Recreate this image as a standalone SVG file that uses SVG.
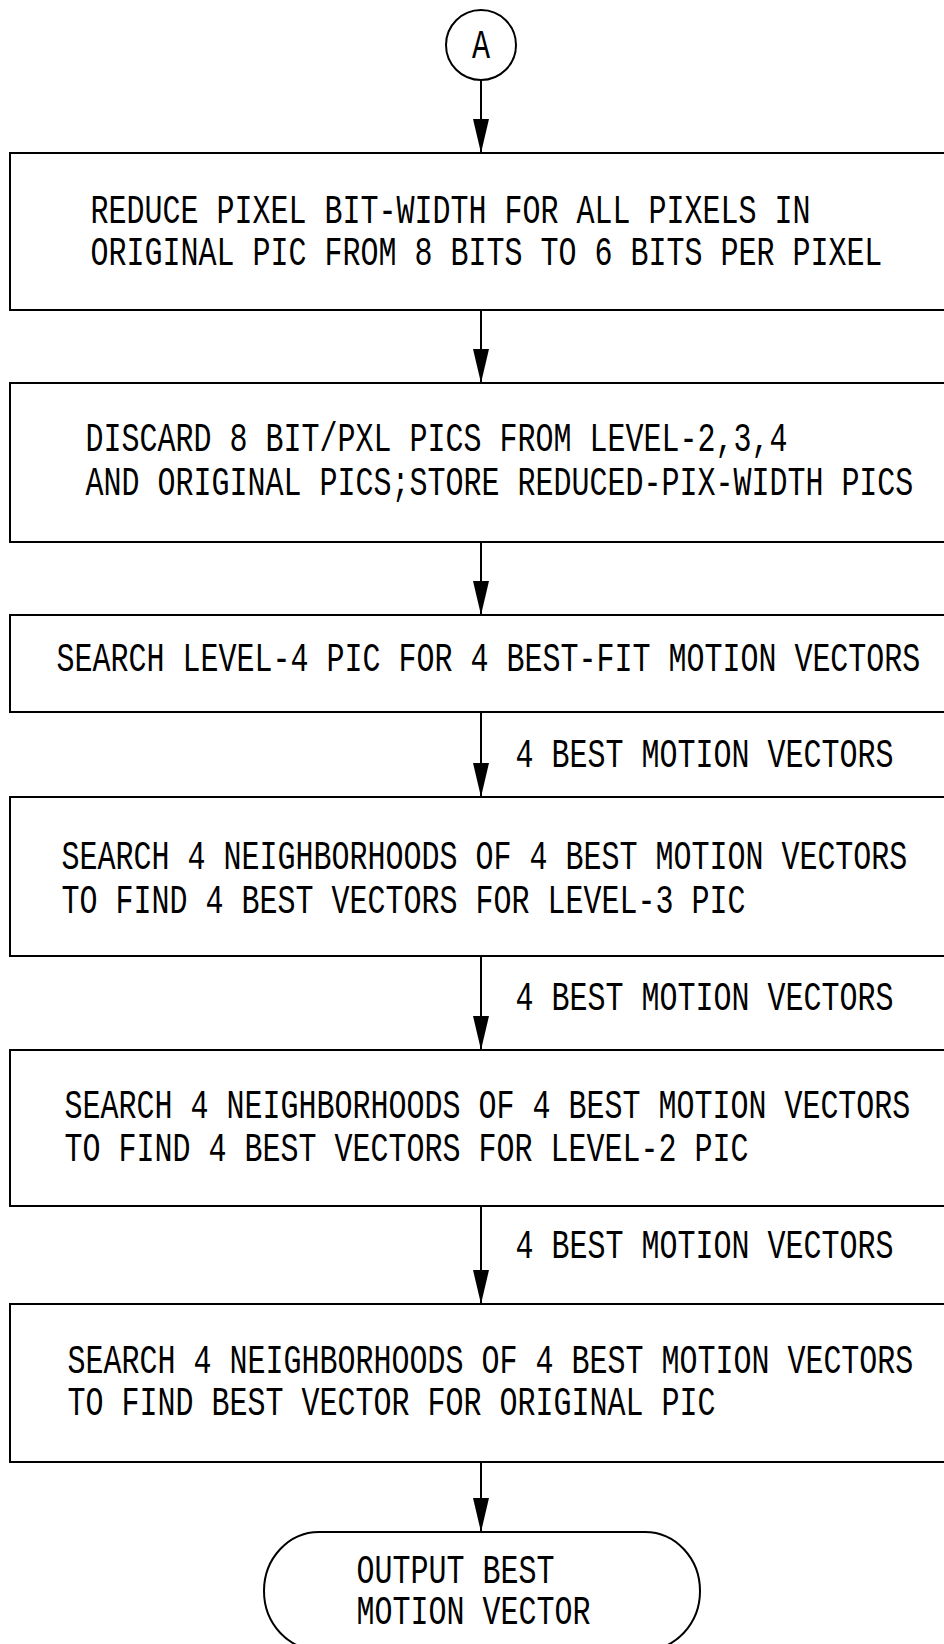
<svg xmlns="http://www.w3.org/2000/svg" width="944" height="1644" viewBox="0 0 944 1644">
<style>
.box{fill:#fff;stroke:#000;stroke-width:2}
.t{font-family:"Liberation Mono","DejaVu Sans Mono",monospace;font-size:40px;fill:#000}
.c line{stroke:#000;stroke-width:2}
</style>
<defs>
<marker id="ah" markerUnits="userSpaceOnUse" markerWidth="34" markerHeight="16" refX="34" refY="8" orient="auto" viewBox="0 0 34 16">
<path d="M0,0 L34,8 L0,16 Z" fill="#000"/>
</marker>
</defs>
<rect width="944" height="1644" fill="#fff"/>
<g class="c" id="connectors">
<line x1="481" y1="80" x2="481" y2="153" marker-end="url(#ah)"/>
<line x1="481" y1="310" x2="481" y2="383" marker-end="url(#ah)"/>
<line x1="481" y1="542" x2="481" y2="615" marker-end="url(#ah)"/>
<line x1="481" y1="712" x2="481" y2="797" marker-end="url(#ah)"/>
<line x1="481" y1="956" x2="481" y2="1050" marker-end="url(#ah)"/>
<line x1="481" y1="1206" x2="481" y2="1304" marker-end="url(#ah)"/>
<line x1="481" y1="1462" x2="481" y2="1532" marker-end="url(#ah)"/>
</g>
<g id="labels">
<text class="t" transform="translate(515.5 767) scale(0.75 1)">4 BEST MOTION VECTORS</text>
<text class="t" transform="translate(515.5 1010) scale(0.75 1)">4 BEST MOTION VECTORS</text>
<text class="t" transform="translate(515.5 1257.5) scale(0.75 1)">4 BEST MOTION VECTORS</text>
</g>
<g id="nodeA">
<circle cx="481" cy="45" r="35" fill="#fff" stroke="#000" stroke-width="2"/>
<text class="t" transform="translate(472 58) scale(0.75 1)">A</text>
</g>
<g id="node1">
<rect class="box" x="10" y="153" width="960" height="157"/>
<text class="t" transform="translate(90.5 223) scale(0.75 1)">REDUCE PIXEL BIT-WIDTH FOR ALL PIXELS IN</text>
<text class="t" transform="translate(90.5 265) scale(0.75 1)">ORIGINAL PIC FROM 8 BITS TO 6 BITS PER PIXEL</text>
</g>
<g id="node2">
<rect class="box" x="10" y="383" width="960" height="159"/>
<text class="t" transform="translate(85.5 451) scale(0.75 1)">DISCARD 8 BIT/PXL PICS FROM LEVEL-2,3,4</text>
<text class="t" transform="translate(85.5 495) scale(0.75 1)">AND ORIGINAL PICS;STORE REDUCED-PIX-WIDTH PICS</text>
</g>
<g id="node3">
<rect class="box" x="10" y="615" width="960" height="97"/>
<text class="t" transform="translate(56.5 671) scale(0.75 1)">SEARCH LEVEL-4 PIC FOR 4 BEST-FIT MOTION VECTORS</text>
</g>
<g id="node4">
<rect class="box" x="10" y="797" width="960" height="159"/>
<text class="t" transform="translate(61.5 868.5) scale(0.75 1)">SEARCH 4 NEIGHBORHOODS OF 4 BEST MOTION VECTORS</text>
<text class="t" transform="translate(61.5 912.5) scale(0.75 1)">TO FIND 4 BEST VECTORS FOR LEVEL-3 PIC</text>
</g>
<g id="node5">
<rect class="box" x="10" y="1050" width="960" height="156"/>
<text class="t" transform="translate(64.5 1118) scale(0.75 1)">SEARCH 4 NEIGHBORHOODS OF 4 BEST MOTION VECTORS</text>
<text class="t" transform="translate(64.5 1161) scale(0.75 1)">TO FIND 4 BEST VECTORS FOR LEVEL-2 PIC</text>
</g>
<g id="node6">
<rect class="box" x="10" y="1304" width="960" height="158"/>
<text class="t" transform="translate(67.5 1373) scale(0.75 1)">SEARCH 4 NEIGHBORHOODS OF 4 BEST MOTION VECTORS</text>
<text class="t" transform="translate(67.5 1414.5) scale(0.75 1)">TO FIND BEST VECTOR FOR ORIGINAL PIC</text>
</g>
<g id="node7">
<rect class="box" x="264" y="1532" width="436" height="118" rx="55" ry="59"/>
<text class="t" transform="translate(356.5 1583) scale(0.75 1)">OUTPUT BEST</text>
<text class="t" transform="translate(356.5 1624) scale(0.75 1)">MOTION VECTOR</text>
</g>
</svg>
